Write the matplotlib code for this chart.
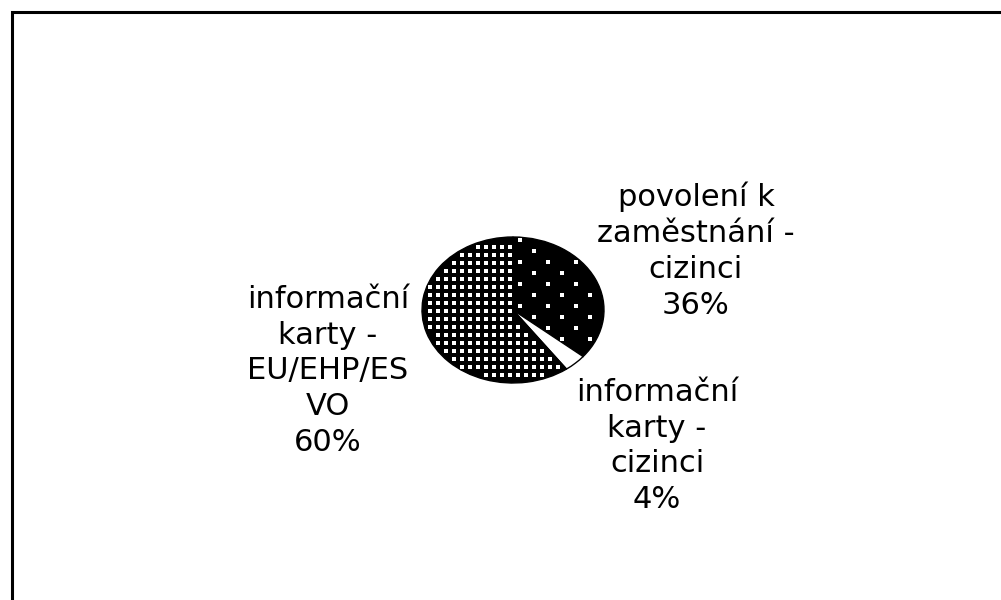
import numpy as np
import matplotlib
matplotlib.use("Agg")
import matplotlib.pyplot as plt
from matplotlib.patches import Rectangle

# data
shares = [36, 4, 60]
labels = ["povolení k\nzaměstnání -\ncizinci", "informační\nkarty -\ncizinci",
          "informační\nkarty -\nEU/EHP/ES\nVO"]
label_pos = [(696, 251), (657, 446), (328, 371)]  # pixel centres of label blocks

W, H = 1001, 600
fig = plt.figure(figsize=(W / 100, H / 100), dpi=100)
plt.rcParams['font.family'] = ['DejaVu Sans']

# pie squashed into an ellipse (rx=91px, ry=73px) centred at (513, 310)
cx, cy, rx, ry = 513, 310, 91, 73
ax = fig.add_axes([(cx - rx) / W, (H - cy - ry) / H, 2 * rx / W, 2 * ry / H])
wedges, _ = ax.pie(shares, startangle=90, counterclock=False,
                   colors=["black", "white", "black"],
                   wedgeprops=dict(edgecolor="black", linewidth=1.0))
ax.set_aspect("auto")
ax.set_xlim(-1, 1)
ax.set_ylim(-1, 1)

# dotted textures: sparse staggered dots on the 36% slice, dense grid on the 60% slice
def dots(wedge, sx, sy, stagger, ms):
    xs = np.arange(-1, 1, sx / rx)
    ys = np.arange(-1, 1, sy / ry)
    pts = []
    for k, y in enumerate(ys):
        off = (sx / rx) / 2 if (stagger and k % 2) else 0
        pts += [(x + off, y) for x in xs]
    pts = np.array(pts)
    inside = wedge.get_path().contains_points(pts, radius=-0.06)
    p = pts[inside]
    ax.plot(p[:, 0], p[:, 1], ls="none", marker="s", ms=ms, mew=0, color="white")

dots(wedges[0], 28, 11, True, 2.3)
dots(wedges[2], 8, 8, False, 2.4)

for (px, py), lab, v in zip(label_pos, labels, shares):
    fig.text(px / W, 1 - py / H, f"{lab}\n{v}%", ha="center", va="center",
             fontsize=22, linespacing=1.3, color="black")

# outer frame
fig.add_artist(Rectangle((11.5 / W, -0.1), 1.2, (H - 11.5) / H + 0.1,
                         transform=fig.transFigure, fill=False,
                         edgecolor="black", linewidth=2.2))

fig.savefig("out.png", dpi=100, facecolor="white")
